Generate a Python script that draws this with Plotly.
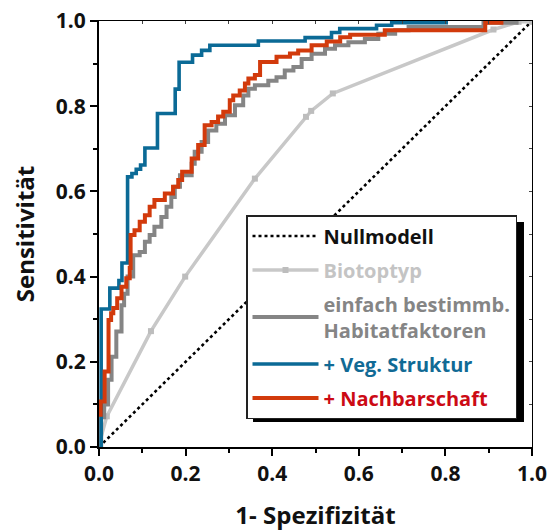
import plotly.graph_objects as go

# ---- data ----
null_x = [0.0, 1.0]
null_y = [0.0, 1.0]

bio_x = [0.0, 0.018, 0.12, 0.199, 0.36, 0.478, 0.49, 0.54, 0.911, 0.969, 1.0]
bio_y = [0.005, 0.072, 0.272, 0.40, 0.63, 0.775, 0.789, 0.83, 0.98, 0.998, 0.998]

hab_x = [0.005, 0.005, 0.012, 0.021, 0.029, 0.040, 0.052, 0.058, 0.066, 0.079, 0.094, 0.106, 0.117,
         0.128, 0.144, 0.156, 0.167, 0.175, 0.187, 0.214, 0.221, 0.237, 0.252, 0.271, 0.291, 0.314,
         0.333, 0.345, 0.360, 0.391, 0.410, 0.429, 0.449, 0.468, 0.491, 0.522, 0.545, 0.576, 0.614,
         0.645, 0.684, 0.715, 0.888, 0.969]
hab_y = [0.0, 0.07, 0.10, 0.158, 0.212, 0.271, 0.333, 0.36, 0.40, 0.45, 0.458, 0.482, 0.4975,
         0.517, 0.54, 0.564, 0.587, 0.611, 0.638, 0.665, 0.693, 0.716, 0.743, 0.759, 0.779, 0.802,
         0.825, 0.841, 0.849, 0.86, 0.868, 0.884, 0.892, 0.911, 0.923, 0.935, 0.943, 0.95, 0.958,
         0.97, 0.978, 0.986, 0.996, 0.996]

veg_x = [0.005, 0.005, 0.025, 0.046, 0.053, 0.066, 0.076, 0.086, 0.096, 0.106, 0.135, 0.176, 0.185,
         0.216, 0.237, 0.256, 0.368, 0.476, 0.537, 0.556, 0.641, 0.676, 0.806]
veg_y = [0.0, 0.324, 0.373, 0.391, 0.432, 0.634, 0.642, 0.652, 0.662, 0.702, 0.783, 0.840, 0.903,
         0.920, 0.931, 0.943, 0.953, 0.961, 0.973, 0.982, 0.990, 0.996, 0.996]

nach_x = [0.0, 0.004, 0.013, 0.022, 0.028, 0.033, 0.042, 0.052, 0.063, 0.071, 0.073, 0.082, 0.094,
          0.106, 0.117, 0.128, 0.152, 0.171, 0.183, 0.192, 0.214, 0.229, 0.244, 0.260, 0.275, 0.287,
          0.302, 0.310, 0.325, 0.337, 0.345, 0.360, 0.372, 0.410, 0.441, 0.460, 0.491, 0.526, 0.557,
          0.580, 0.660, 0.892, 0.934]
nach_y = [0.0755, 0.107, 0.177, 0.298, 0.314, 0.326, 0.349, 0.376, 0.396, 0.42, 0.4975, 0.509, 0.529,
          0.544, 0.564, 0.58, 0.595, 0.611, 0.627, 0.646, 0.677, 0.709, 0.755, 0.763, 0.776, 0.787,
          0.814, 0.825, 0.837, 0.853, 0.865, 0.873, 0.904, 0.916, 0.924, 0.931, 0.943, 0.952, 0.962,
          0.968, 0.978, 0.996, 0.996]

tick_vals = [0.0, 0.2, 0.4, 0.6, 0.8, 1.0]
tick_text = ["0.0", "0.2", "0.4", "0.6", "0.8", "1.0"]

names = ["Nullmodell", "Biotoptyp", "einfach bestimmb.<br>Habitatfaktoren",
         "+ Veg. Struktur", "+ Nachbarschaft"]
text_colors = ["#111111", "#c4c4c4", "#858585", "#116a95", "#cc0a14"]

FONT = "Open Sans"
C_BIO = "#c8c8c8"
C_HAB = "#858585"
C_VEG = "#0b6a96"
C_NACH = "#d23a0c"

def lab(i):
    return f"<span style='color:{text_colors[i]}'>{names[i]}</span>"

fig = go.Figure()
fig.add_trace(go.Scatter(x=null_x, y=null_y, mode="lines", name=lab(0), legendgroup="a",
                         line=dict(color="#000000", width=2.6, dash="dot")))
fig.add_trace(go.Scatter(x=bio_x, y=bio_y, mode="lines+markers", name=lab(1), legendgroup="b",
                         line=dict(color=C_BIO, width=3.5),
                         marker=dict(symbol="square", size=6, color="#bdbdbd")))
fig.add_trace(go.Scatter(x=hab_x, y=hab_y, mode="lines", name=lab(2), legendgroup="c",
                         line=dict(color=C_HAB, width=4, shape="hv")))
fig.add_trace(go.Scatter(x=veg_x, y=veg_y, mode="lines", name=lab(3), legendgroup="d",
                         line=dict(color=C_VEG, width=3.6, shape="hv")))
fig.add_trace(go.Scatter(x=nach_x, y=nach_y, mode="lines", name=lab(4), legendgroup="e",
                         line=dict(color=C_NACH, width=4, shape="hv")))
# helper trace for the mirrored frame axes
fig.add_trace(go.Scatter(x=[0, 1], y=[0, 1], xaxis="x2", yaxis="y2", mode="lines",
                         line=dict(color="rgba(0,0,0,0)"), showlegend=False, hoverinfo="skip"))

axis_common = dict(range=[0, 1], showgrid=False, zeroline=False, showline=True, automargin=False,
                   linecolor="#000000", linewidth=2.2, ticks="outside", ticklen=7,
                   tickwidth=2, tickcolor="#000000",
                   tickvals=tick_vals, ticktext=tick_text,
                   tickfont=dict(family=FONT, size=21, color="#111111", weight="bold"),
                   minor=dict(dtick=0.1, ticks="outside", ticklen=4, tickwidth=1.6,
                              tickcolor="#000000", showgrid=False))

fig.update_layout(
    width=557, height=531,
    margin=dict(l=99, r=25, t=21, b=84, autoexpand=False),
    paper_bgcolor="white", plot_bgcolor="white",
    showlegend=True,
    xaxis=dict(**axis_common,
               title=dict(text="1- Spezifizität", standoff=24,
                          font=dict(family=FONT, size=24, color="#111111", weight="bold"))),
    yaxis=dict(**axis_common,
               title=dict(text="Sensitivität", standoff=14,
                          font=dict(family=FONT, size=24, color="#111111", weight="bold"))),
    xaxis2=dict(range=[0, 1], overlaying="x", side="top", anchor="y2", showline=True,
                automargin=False,
                linecolor="#000000", linewidth=1.3, ticks="inside", ticklen=3, tickwidth=1,
                dtick=0.1, showticklabels=False, showgrid=False, zeroline=False),
    yaxis2=dict(range=[0, 1], overlaying="y", side="right", anchor="x2", showline=True,
                automargin=False,
                linecolor="#000000", linewidth=1.3, ticks="inside", ticklen=3, tickwidth=1,
                dtick=0.1, showticklabels=False, showgrid=False, zeroline=False),
    legend=dict(x=0.3395, y=0.5446, xanchor="left", yanchor="top",
                bgcolor="white", bordercolor="#222222", borderwidth=1.5,
                font=dict(family=FONT, size=20, color="#111111", weight="bold"),
                traceorder="grouped", tracegroupgap=5, itemwidth=66),
    shapes=[dict(type="rect", xref="paper", yref="paper",
                 x0=0.3557, x1=0.9815, y0=0.0587, y1=0.528,
                 fillcolor="#000000", line=dict(width=0), layer="above")],
)

fig.write_html("out.html")
